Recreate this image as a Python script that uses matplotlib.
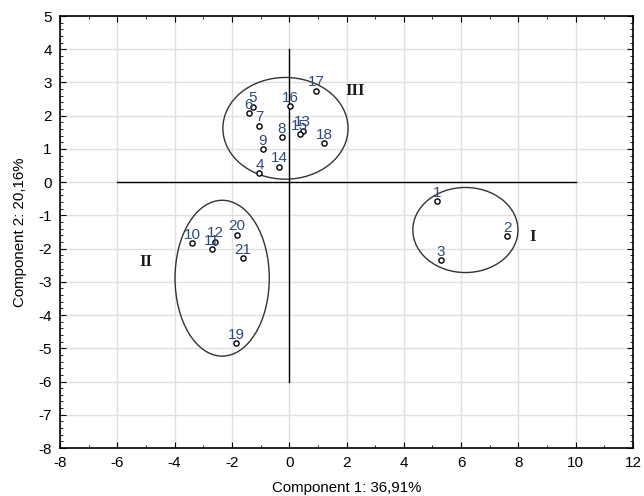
import numpy as np
import matplotlib
matplotlib.use("Agg")
import matplotlib.pyplot as plt
from matplotlib.patches import Ellipse
from matplotlib.ticker import MultipleLocator

plt.rcParams["font.family"] = ["Liberation Sans", "DejaVu Sans"]
plt.rcParams["axes.unicode_minus"] = False

# PCA scores (component 1, component 2) for the 21 samples
labels = [str(i) for i in range(1, 22)]
comp1 = [5.16, 7.61, 5.30, -1.04, -1.27, -1.42, -1.04, -0.26, -0.92, -3.39,
         -2.69, -2.59, 0.47, -0.34, 0.36, 0.03, 0.93, 1.22, -1.86, -1.82, -1.61]
comp2 = [-0.58, -1.62, -2.34, 0.27, 2.27, 2.08, 1.70, 1.36, 0.99, -1.84,
         -2.02, -1.79, 1.55, 0.46, 1.45, 2.28, 2.75, 1.17, -4.85, -1.58, -2.28]

# cluster ellipses: centre x, centre y, width, height
groups = ["I", "II", "III"]
ell_cx = [6.15, -2.34, -0.13]
ell_cy = [-1.44, -2.89, 1.62]
ell_w = [3.67, 3.29, 4.37]
ell_h = [2.56, 4.69, 3.06]
group_x = [8.5, -5.0, 2.3]
group_y = [-1.65, -2.4, 2.75]

fig = plt.figure(figsize=(6.44, 4.96), dpi=100)
ax = fig.add_axes([60 / 644, 48 / 496, 573 / 644, 432 / 496])

ax.set_xlim(-8, 12)
ax.set_ylim(-8, 5)
ax.xaxis.set_major_locator(MultipleLocator(2))
ax.xaxis.set_minor_locator(MultipleLocator(1))
ax.yaxis.set_major_locator(MultipleLocator(1))
ax.yaxis.set_minor_locator(MultipleLocator(0.2))
ax.tick_params(which="both", direction="in", top=True, right=True,
               labelsize=11, colors="black")
ax.tick_params(which="major", length=4, pad=6)
ax.tick_params(which="minor", length=2)
ax.grid(True, which="major", color="#e0e0e0", linewidth=1)
ax.set_axisbelow(True)
for s in ax.spines.values():
    s.set_linewidth(1.2)

# reference axes
ax.plot([-6, 10], [0, 0], color="black", linewidth=1)
ax.plot([0, 0], [-6, 4], color="black", linewidth=1)

for cx, cy, w, h in zip(ell_cx, ell_cy, ell_w, ell_h):
    ax.add_patch(Ellipse((cx, cy), w, h, fill=False, edgecolor="#333333",
                         linewidth=1))

ax.scatter(comp1, comp2, s=14, facecolors="white", edgecolors="black",
           linewidths=1, zorder=3)
for lab, x, y in zip(labels, comp1, comp2):
    ax.annotate(lab, (x, y), xytext=(0, 1), textcoords="offset points",
                ha="center", va="bottom", fontsize=11, color="#2e4a7a",
                zorder=4)

for g, x, y in zip(groups, group_x, group_y):
    ax.text(x, y, g, fontsize=12, fontweight="bold", family="Liberation Serif",
            ha="center", va="center", color="#1a1a1a")

ax.set_xlabel("Component 1: 36,91%", fontsize=10.8, labelpad=8)
ax.set_ylabel("Component 2: 20,16%", fontsize=10.8, labelpad=8)

fig.savefig("out.png", dpi=100)
